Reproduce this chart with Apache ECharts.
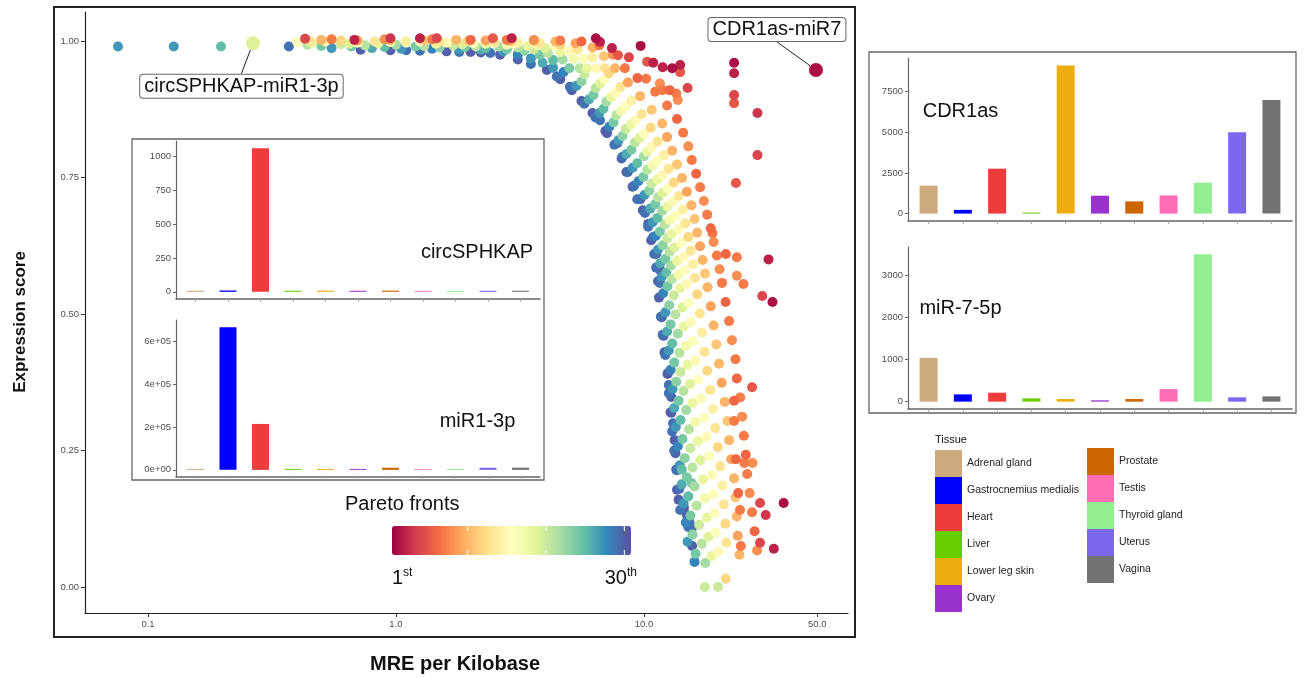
<!DOCTYPE html>
<html>
<head>
<meta charset="utf-8">
<script src="https://cdn.jsdelivr.net/npm/echarts@6/dist/echarts.min.js"></script>
<style>html,body{margin:0;padding:0;background:#fff}#chart{width:1306px;height:678px}</style>
</head>
<body>
<div id="chart"></div>
<script>
// points: [MRE per kilobase, expression score, pareto front]
const purplePts = [
  [0.37,0.990,29],[0.72,0.984,30],[0.95,0.983,30],[1.1,0.983,29],[1.25,0.982,29],[1.6,0.981,30],[1.8,0.980,29],[2.0,0.980,30],[2.2,0.979,30],[2.4,0.978,29],[2.63,0.975,30],
  [3.1,0.966,30],[3.5,0.958,29],[4.06,0.947,30],[4.45,0.935,29],[4.6,0.930,30],[5.03,0.916,29],[5.12,0.910,30],[5.6,0.890,30],[5.75,0.885,29],[6.2,0.868,30],[6.38,0.860,29],
  [6.65,0.855,29],[6.99,0.835,30],[7.1,0.831,30],[7.6,0.810,29],[7.8,0.813,30],[8.13,0.785,30],[8.2,0.788,29],[8.5,0.760,30],[8.62,0.760,29],[9.0,0.733,30],[9.13,0.735,29],
  [9.4,0.710,29],[9.68,0.710,30],[9.9,0.690,30],[10.1,0.685,29],[10.4,0.665,30],[10.4,0.660,29],[10.7,0.635,30],[10.9,0.641,29],[11.0,0.610,29],[11.2,0.610,30],[11.2,0.585,29],
  [11.6,0.581,30],[11.4,0.560,30],[11.6,0.557,29],[11.5,0.530,30],[11.7,0.495,29],[11.8,0.494,30],[12.0,0.460,30],[11.9,0.462,29],[12.1,0.430,30],[12.2,0.425,29],
  [12.45,0.390,30],[12.5,0.392,30],[12.6,0.355,29],[12.6,0.370,29],[12.9,0.348,30],[12.8,0.320,30],[12.9,0.319,30],[13.0,0.285,29],[13.1,0.300,29],[13.3,0.269,30],
  [13.25,0.250,29],[13.4,0.245,30],[13.5,0.215,30],[13.6,0.214,29],[13.6,0.178,30],[13.9,0.180,29],[13.8,0.160,30],[14.0,0.141,29],[14.5,0.145,30],[14.9,0.132,30],
  [15.2,0.120,30],[15.1,0.110,29],[15.7,0.110,29],[15.65,0.075,30],[16.0,0.046,28]
];
const bluePts = [
  [0.0757,0.990,27],[0.127,0.990,27],[0.55,0.987,27],[0.8,0.987,26],[1.05,0.986,27],[1.4,0.986,28],[1.8,0.985,27],[2.2,0.984,26],[2.7,0.981,27],[3.1,0.975,28],
  [3.5,0.968,27],[3.9,0.960,26],[4.3,0.951,27],[4.74,0.943,28],[5.35,0.918,27],[6.0,0.893,26],[6.61,0.868,27],[7.25,0.843,28],[7.9,0.818,27],[8.5,0.793,26],
  [9.0,0.768,27],[9.5,0.743,28],[10.05,0.718,27],[10.6,0.693,26],[10.85,0.668,27],[11.15,0.643,28],[11.4,0.618,27],[11.65,0.593,26],[11.8,0.568,27],[11.95,0.538,28],
  [12.2,0.503,27],[12.4,0.468,26],[12.6,0.433,27],[12.82,0.398,28],[13.05,0.363,27],[13.25,0.328,26],[13.45,0.293,27],[13.7,0.258,28],[13.95,0.223,27],[14.2,0.188,26],
  [14.45,0.153,27],[14.75,0.118,28],[15.0,0.083,27]
];
const tealPts = [
  [0.197,0.990,25],[0.50,0.991,24],[0.66,0.990,24],[0.9,0.989,25],[1.2,0.990,24],[1.5,0.988,23],[1.9,0.989,24],[2.3,0.987,25],[2.8,0.985,24],[3.3,0.982,23],
  [3.8,0.975,24],[4.3,0.965,25],[5.0,0.950,24],[5.6,0.926,23],[6.26,0.901,24],[6.87,0.876,25],[7.54,0.851,24],[8.2,0.826,23],[8.9,0.801,24],[9.4,0.776,25],
  [9.95,0.751,24],[10.5,0.726,23],[11.1,0.701,24],[11.35,0.676,25],[11.6,0.651,24],[11.9,0.626,23],[12.2,0.601,24],[12.3,0.576,25],[12.45,0.551,24],[12.65,0.516,23],
  [12.8,0.481,24],[13.0,0.446,25],[13.25,0.411,24],[13.5,0.376,23],[13.8,0.341,24],[14.05,0.306,25],[14.3,0.271,24],[14.6,0.236,23],[14.9,0.201,24],[15.1,0.166,25],
  [15.4,0.131,24],[15.7,0.096,23],[16.15,0.061,24],[14.2,0.215,25],[15.6,0.190,24]
];
const greenPts = [
  [0.44,0.993,21],[0.60,0.994,20],[0.75,0.992,21],[1.0,0.993,22],[1.3,0.991,21],[1.7,0.992,20],[2.1,0.990,21],[2.6,0.990,22],[3.1,0.988,21],[3.6,0.985,20],
  [4.1,0.978,21],[4.7,0.966,22],[5.5,0.950,21],[5.77,0.939,20],[6.4,0.914,21],[7.05,0.889,22],[7.74,0.864,21],[8.45,0.839,20],[9.19,0.814,21],[10.0,0.789,22],
  [10.3,0.764,21],[10.75,0.739,20],[11.4,0.714,21],[11.85,0.689,22],[12.15,0.664,21],[12.45,0.639,20],[12.7,0.614,21],[12.85,0.589,22],[13.0,0.564,21],[13.2,0.534,20],
  [13.4,0.499,21],[13.7,0.464,22],[13.9,0.429,21],[14.05,0.394,20],[14.45,0.359,21],[14.8,0.324,22],[15.2,0.289,21],[15.4,0.254,20],[15.7,0.219,21],[16.0,0.184,22],
  [16.3,0.149,21],[16.7,0.114,20],[17.1,0.079,21],[17.7,0.044,22],[17.6,0.000,20],[19.9,0.000,20]
];
const limePts = [
  [0.46,0.997,18],[0.65,0.995,19],[0.85,0.996,18],[1.1,0.997,17],[1.45,0.995,18],[1.85,0.994,19],[2.3,0.995,18],[2.8,0.993,17],[3.4,0.991,18],[4.0,0.987,19],
  [4.6,0.980,18],[5.2,0.967,17],[5.9,0.950,18],[6.67,0.922,19],[7.37,0.897,18],[8.09,0.872,17],[8.86,0.847,18],[9.58,0.822,19],[10.3,0.797,18],[10.85,0.772,17],
  [11.35,0.747,18],[11.9,0.722,19],[12.45,0.697,18],[12.7,0.672,17],[12.95,0.647,18],[13.3,0.622,19],[13.6,0.597,18],[13.8,0.572,17],[14.0,0.547,18],[14.3,0.512,19],
  [14.5,0.477,18],[14.75,0.442,17],[15.0,0.407,18],[15.35,0.372,19],[15.7,0.337,18],[16.1,0.302,17],[16.5,0.267,18],[16.9,0.232,19],[17.3,0.197,18],[17.6,0.162,17],
  [17.9,0.127,18],[18.2,0.092,19],[18.75,0.057,18]
];
const creamPts = [
  [0.40,0.998,16],[0.52,0.999,15],[0.70,0.997,16],[0.95,0.998,15],[1.25,0.999,16],[1.6,0.997,15],[2.05,0.996,16],[2.5,0.997,15],[3.0,0.995,16],[3.7,0.993,15],
  [4.4,0.990,16],[5.0,0.982,15],[5.7,0.968,16],[6.4,0.950,15],[6.95,0.930,16],[7.7,0.905,15],[8.45,0.880,16],[9.27,0.855,15],[10.0,0.830,16],[10.75,0.805,15],
  [11.3,0.780,16],[11.9,0.755,15],[12.5,0.730,16],[13.05,0.705,15],[13.45,0.680,16],[13.8,0.655,15],[14.1,0.630,16],[14.45,0.605,15],[14.65,0.580,16],[14.85,0.555,15],
  [15.15,0.520,16],[15.45,0.485,15],[15.8,0.450,16],[16.15,0.415,15],[16.55,0.380,16],[17.0,0.345,15],[17.5,0.310,16],[17.9,0.275,15],[18.35,0.240,16],[18.8,0.205,15],
  [19.0,0.170,16],[19.25,0.135,15],[19.5,0.100,16],[20.0,0.065,15]
];
const peachPts = [
  [0.45,1.000,13],[0.60,1.001,12],[0.82,0.999,13],[1.1,1.000,14],[1.5,0.999,13],[1.95,1.000,12],[2.5,0.998,13],[3.1,0.997,14],[3.8,0.996,13],[4.6,0.993,12],
  [5.4,0.985,13],[6.2,0.970,14],[6.96,0.950,13],[7.22,0.941,12],[8.05,0.916,13],[8.9,0.891,14],[9.8,0.866,13],[10.65,0.841,12],[11.35,0.816,13],[12.05,0.791,14],
  [12.6,0.766,13],[13.2,0.741,12],[13.8,0.716,13],[14.35,0.691,14],[14.7,0.666,13],[15.1,0.641,12],[15.45,0.616,13],[15.8,0.591,14],[16.05,0.566,13],[16.4,0.536,12],
  [16.8,0.501,13],[17.15,0.466,14],[17.55,0.431,13],[18.0,0.396,12],[18.5,0.361,13],[19.0,0.326,14],[19.4,0.291,13],[19.85,0.256,12],[20.3,0.221,13],[20.7,0.186,14],
  [21.0,0.151,13],[21.3,0.116,12],[21.5,0.081,13],[21.4,0.015,12]
];
const orangePts = [
  [0.50,1.002,10],[0.70,1.001,9],[0.95,1.002,10],[1.3,1.001,11],[1.75,1.002,10],[2.3,1.001,9],[2.9,1.000,10],[3.6,1.000,11],[4.4,0.999,10],[5.3,0.996,9],
  [6.2,0.988,10],[6.9,0.972,11],[7.64,0.950,10],[8.62,0.924,9],[9.65,0.899,10],[10.75,0.874,11],[11.85,0.849,10],[12.4,0.824,9],[13.0,0.799,10],[13.6,0.774,11],
  [14.25,0.749,10],[14.9,0.724,9],[15.55,0.699,10],[16.0,0.674,11],[16.4,0.649,10],[16.85,0.624,9],[17.25,0.599,10],[17.65,0.574,11],[18.05,0.549,10],[18.6,0.514,9],
  [19.1,0.479,10],[19.6,0.444,11],[20.1,0.409,10],[20.6,0.374,9],[21.2,0.339,10],[21.7,0.304,11],[22.05,0.269,10],[22.5,0.234,9],[23.1,0.199,10],[23.4,0.164,11],
  [23.7,0.129,10],[23.9,0.094,9],[24.3,0.059,10]
];
const vermilionPts = [
  [0.55,1.003,7],[0.90,1.003,8],[1.4,1.003,7],[2.0,1.002,6],[2.8,1.002,7],[3.6,1.002,8],[4.6,1.001,7],[5.6,0.999,6],[6.6,0.992,7],[7.5,0.975,8],
  [8.38,0.950,7],[9.42,0.932,6],[10.2,0.931,7],[11.6,0.922,8],[11.1,0.907,7],[11.9,0.910,7],[12.7,0.910,6],[13.5,0.904,7],[13.7,0.892,8],[12.4,0.882,7],
  [13.6,0.857,6],[14.4,0.832,7],[15.1,0.807,8],[15.6,0.782,7],[16.25,0.757,6],[16.85,0.732,7],[17.45,0.707,8],[18.0,0.682,7],[18.6,0.657,6],[18.9,0.648,7],
  [19.1,0.632,8],[19.7,0.607,7],[21.4,0.610,6],[23.7,0.604,7],[20.2,0.582,8],[23.7,0.570,8],[20.65,0.557,7],[25.2,0.555,7],[21.35,0.522,6],[22.05,0.487,7],
  [22.65,0.452,8],[23.4,0.417,7],[23.7,0.382,6],[24.45,0.347,7],[23.1,0.341,6],[24.9,0.312,8],[23.1,0.304,7],[25.3,0.277,7],[25.75,0.242,6],[23.5,0.234,6],
  [25.4,0.227,7],[27.4,0.227,8],[26.1,0.207,7],[24.0,0.172,6],[26.7,0.172,8],[24.4,0.141,7],[27.3,0.137,7],[27.95,0.102,6],[24.6,0.075,7],[28.6,0.067,8]
];
const redPts = [
  [0.43,1.004,4],[0.95,1.005,3],[1.46,1.005,4],[2.46,1.005,5],[23.1,0.901,4],[23.1,0.886,5],[28.7,0.868,3],[28.7,0.791,4],[23.5,0.740,5],[30.0,0.533,4],
  [27.3,0.366,5],[29.4,0.154,4],[31.0,0.132,3],[29.4,0.081,4],[10.3,0.962,5],[8.7,0.970,4],[7.86,0.974,5],[15.0,0.914,4],[14.0,0.943,5]
];
const crimsonPts = [
  [0.68,1.002,2],[1.25,1.005,2],[2.93,1.005,2],[6.4,1.005,1],[6.65,0.998,2],[7.43,0.987,2],[9.7,0.991,1],[10.9,0.960,2],[11.9,0.952,2],[13.0,0.950,1],
  [14.0,0.956,2],[23.1,0.960,1],[23.1,0.941,2],[31.8,0.600,2],[33.0,0.522,1],[36.6,0.154,1],[33.4,0.070,2]
];
const highlightPts = [
  ['circSPHKAP-miR1-3p', 0.265, 0.996, 19],
  ['CDR1as-miR7', 49.4, 0.947, 1]
];

const xTickVals = [0.1, 1, 10, 50];
const yTickVals = [0, 0.25, 0.5, 0.75, 1];
const frontTicks = [10, 20, 30];

const tissues = ['Adrenal gland', 'Gastrocnemius medialis', 'Heart', 'Liver', 'Lower leg skin', 'Ovary',
  'Prostate', 'Testis', 'Thyroid gland', 'Uterus', 'Vagina'];
const tissueColors = ['#CDAA7D', '#0000FF', '#EE3B3B', '#66CD00', '#EEAD0E', '#9A32CD',
  '#CD6600', '#FF6EB4', '#90EE90', '#7B68EE', '#737373'];

const circSPHKAP = [8, 10, 1060, 8, 8, 8, 9, 7, 7, 8, 8];
const miR1_3p = [4500, 665000, 214000, 4500, 4500, 4500, 10000, 4000, 4000, 10000, 10000];
const CDR1as = [1720, 230, 2760, 60, 9110, 1100, 750, 1120, 1900, 5000, 6980];
const miR7_5p = [1043, 173, 213, 78, 62, 31, 62, 299, 3507, 102, 126];

const circTicks = [0, 250, 500, 750, 1000];
const mir1Ticks = [0, 200000, 400000, 600000];
const cdrTicks = [0, 2500, 5000, 7500];
const mir7Ticks = [0, 1000, 2000, 3000];

const spectral = ['#9E0142', '#D53E4F', '#F46D43', '#FDAE61', '#FEE08B', '#FFFFBF',
  '#E6F598', '#ABDDA4', '#66C2A5', '#3288BD', '#5E4FA2'];

const FONT = '"Liberation Sans", Arial, Helvetica, sans-serif';

var chart = echarts.init(document.getElementById('chart'));

// higher fronts first so the first fronts sit on top
const allPts = [].concat(purplePts, bluePts, tealPts, greenPts, limePts, creamPts,
  peachPts, orangePts, vermilionPts, redPts, crimsonPts).sort((a, b) => b[2] - a[2]);
const mainData = allPts.map(p => [Math.log10(p[0]), p[1], p[2]]);

const barPos = tissues.map((t, i) => i + 1);

// colour bar geometry
const cbar = { left: 392, top: 526, len: 239, thick: 29, min: 0.35, max: 30.85 };

function insetX(g) {
  return {
    type: 'value', gridIndex: g, min: 0.4, max: 11.6,
    axisLine: { show: true, onZero: false, lineStyle: { color: '#666', width: 1.5 } },
    axisTick: { show: true, customValues: barPos, length: 3, lineStyle: { color: '#aaa' } },
    axisLabel: { show: false },
    splitLine: { show: false }
  };
}
function insetY(g, min, max, ticks, fmt) {
  return {
    type: 'value', gridIndex: g, min: min, max: max,
    axisLine: { show: true, onZero: false, lineStyle: { color: '#666', width: 1.2 } },
    axisTick: { show: true, customValues: ticks, length: 3, lineStyle: { color: '#666' } },
    axisLabel: { customValues: ticks, fontSize: 9.5, color: '#4d4d4d', margin: 5, fontFamily: FONT,
      formatter: fmt || (v => String(v)) },
    splitLine: { show: false }
  };
}
function barSeries(g, vals, w) {
  return {
    type: 'bar', xAxisIndex: g, yAxisIndex: g, barWidth: w, silent: true,
    data: vals.map((v, i) => ({ value: [i + 1, v], itemStyle: { color: tissueColors[i], opacity: 1 } }))
  };
}
function txt(text, x, y, size, align, extra) {
  return Object.assign({
    type: 'text', x: x, y: y, silent: true,
    style: { text: text, fontSize: size, fontFamily: FONT, fill: '#111',
      textAlign: align, align: align, textVerticalAlign: 'middle', verticalAlign: 'middle' }
  }, extra || {});
}
function supText(main, sup, x, align) {
  return {
    type: 'text', x: x, y: 578, silent: true,
    style: { text: '{n|' + main + '}{s|' + sup + '}', textAlign: align, align: align,
      textVerticalAlign: 'middle', verticalAlign: 'middle',
      rich: { n: { fontSize: 20, lineHeight: 22, fontFamily: FONT, fill: '#111', color: '#111' },
              s: { fontSize: 12, verticalAlign: 'top', fontFamily: FONT, fill: '#111', color: '#111' } } }
  };
}
function tissueLegend(left, top, names) {
  return {
    left: left, top: top, orient: 'vertical', itemWidth: 27, itemHeight: 27, itemGap: 0, padding: 0,
    icon: 'rect', selectedMode: false, data: names,
    textStyle: { fontSize: 10.5, color: '#222', fontFamily: FONT }
  };
}
// small white ticks on the colour bar, like ggplot's colourbar
function cbarTicks() {
  const out = [];
  frontTicks.forEach(v => {
    const x = cbar.left + (v - cbar.min) / (cbar.max - cbar.min) * cbar.len;
    out.push({ type: 'line', silent: true, z: 100, shape: { x1: x, y1: cbar.top, x2: x, y2: cbar.top + 5 }, style: { stroke: '#fff', lineWidth: 1 } });
    out.push({ type: 'line', silent: true, z: 100, shape: { x1: x, y1: cbar.top + cbar.thick - 5, x2: x, y2: cbar.top + cbar.thick }, style: { stroke: '#fff', lineWidth: 1 } });
  });
  return out;
}

const titleX = txt('MRE per Kilobase', 455, 664, 20, 'center');
titleX.style.fontWeight = 'bold';
const titleY = txt('Expression score', 20, 322, 17, 'center', { rotation: Math.PI / 2 });
titleY.style.fontWeight = 'bold';

const option = {
  animation: false,
  backgroundColor: '#fff',
  textStyle: { fontFamily: FONT },
  grid: [
    { left: 85, top: 12, width: 763, height: 601, containLabel: false, outerBoundsMode: 'none' },
    { left: 176, top: 141, width: 364, height: 158, containLabel: false, outerBoundsMode: 'none' },
    { left: 176, top: 320, width: 364, height: 157, containLabel: false, outerBoundsMode: 'none' },
    { left: 908, top: 58, width: 384, height: 163, containLabel: false, outerBoundsMode: 'none' },
    { left: 908, top: 247, width: 384, height: 162, containLabel: false, outerBoundsMode: 'none' }
  ],
  xAxis: [
    {
      type: 'value', gridIndex: 0, min: -1.254, max: 1.823,
      axisLine: { show: true, onZero: false, lineStyle: { color: '#222', width: 1.2 } },
      axisTick: { show: true, customValues: xTickVals.map(v => Math.log10(v)), length: 4, lineStyle: { color: '#333' } },
      axisLabel: { customValues: xTickVals.map(v => Math.log10(v)), formatter: v => Math.pow(10, v).toFixed(1),
        fontSize: 9.5, color: '#4d4d4d', margin: 6, fontFamily: FONT },
      splitLine: { show: false }
    },
    insetX(1), insetX(2), insetX(3), insetX(4)
  ],
  yAxis: [
    {
      type: 'value', gridIndex: 0, min: -0.0476, max: 1.0531,
      axisLine: { show: true, onZero: false, lineStyle: { color: '#222', width: 1.2 } },
      axisTick: { show: true, customValues: yTickVals, length: 4, lineStyle: { color: '#333' } },
      axisLabel: { customValues: yTickVals, formatter: v => v.toFixed(2), fontSize: 9.5, color: '#4d4d4d', margin: 6, fontFamily: FONT },
      splitLine: { show: false }
    },
    insetY(1, -53, 1113, circTicks),
    insetY(2, -33250, 698250, mir1Ticks, v => v === 0 ? '0e+00' : (v / 100000).toFixed(0) + 'e+05'),
    insetY(3, -455.5, 9565.5, cdrTicks),
    insetY(4, -175, 3682, mir7Ticks)
  ],
  visualMap: {
    type: 'continuous', seriesIndex: [0, 1], dimension: 2, min: cbar.min, max: cbar.max,
    orient: 'horizontal', left: cbar.left, top: cbar.top, itemWidth: cbar.thick, itemHeight: cbar.len,
    calculable: false, hoverLink: false, padding: 0, text: null,
    inRange: { color: spectral }
  },
  legend: [tissueLegend(935, 450, tissues.slice(0, 6)), tissueLegend(1087, 448, tissues.slice(6))],
  series: [
    {
      type: 'scatter', xAxisIndex: 0, yAxisIndex: 0, symbolSize: 10, silent: true,
      itemStyle: { opacity: 1 },
      data: mainData
    },
    {
      type: 'scatter', xAxisIndex: 0, yAxisIndex: 0, symbolSize: 14, silent: true,
      itemStyle: { opacity: 1 },
      data: highlightPts.map(p => ({ name: p[0], value: [Math.log10(p[1]), p[2], p[3]] })),
      label: {
        show: true, position: 'inside', formatter: '{b}', fontSize: 20, color: '#111', fontFamily: FONT,
        backgroundColor: '#fff', borderColor: '#666', borderWidth: 1, borderRadius: 3, padding: [2, 4, 1, 4]
      },
      labelLayout: p => p.dataIndex === 0 ? { dx: -11.5, dy: 43 } : { dx: -39, dy: -40.5 },
      labelLine: { show: true, lineStyle: { color: '#222', width: 1 } }
    },
    barSeries(1, circSPHKAP, 17),
    barSeries(2, miR1_3p, 17),
    barSeries(3, CDR1as, 18),
    barSeries(4, miR7_5p, 18)
  ].concat(tissues.map((t, i) => ({
    type: 'scatter', name: t, xAxisIndex: 0, yAxisIndex: 0, data: [],
    itemStyle: { color: tissueColors[i], opacity: 1 }
  }))),
  graphic: [
    { type: 'rect', silent: true, shape: { x: 54, y: 7, width: 801, height: 630 }, style: { fill: 'none', stroke: '#222', lineWidth: 2 } },
    { type: 'rect', silent: true, shape: { x: 132, y: 139, width: 412, height: 341 }, style: { fill: 'none', stroke: '#666', lineWidth: 1.3 } },
    { type: 'rect', silent: true, shape: { x: 869, y: 52, width: 427, height: 361 }, style: { fill: 'none', stroke: '#666', lineWidth: 1.3 } },
    txt('circSPHKAP', 477, 252, 20, 'center'),
    txt('miR1-3p', 477.5, 421, 20, 'center'),
    txt('CDR1as', 960.5, 111, 20, 'center'),
    txt('miR-7-5p', 960.5, 308, 20, 'center'),
    txt('Pareto fronts', 345, 504, 20, 'left'),
    txt('Tissue', 935, 440, 11, 'left'),
    titleX,
    titleY,
    supText('1', 'st', 392, 'left'),
    supText('30', 'th', 637, 'right')
  ].concat(cbarTicks())
};

option && chart.setOption(option);
</script>
</body>
</html>
